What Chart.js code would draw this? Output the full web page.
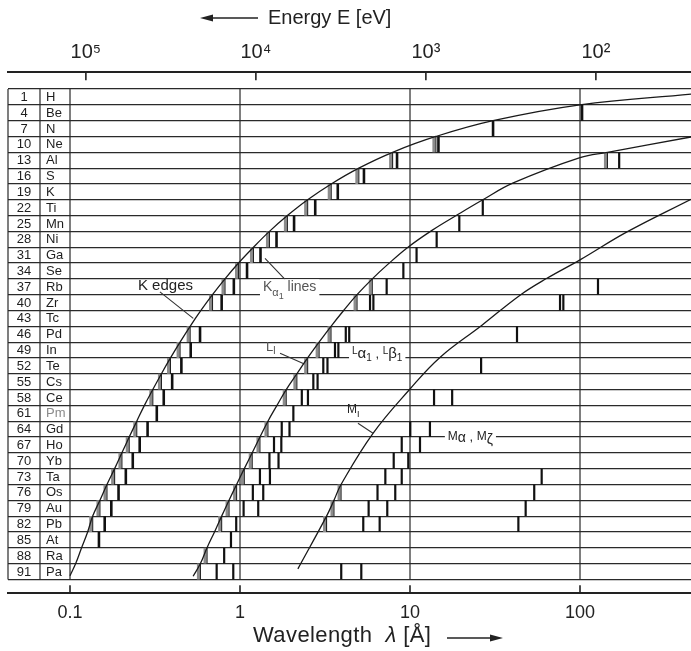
<!DOCTYPE html>
<html>
<head>
<meta charset="utf-8">
<script src="https://cdn.jsdelivr.net/npm/chart.js@4.4.1/dist/chart.umd.min.js"></script>
<style>
  html, body { margin: 0; padding: 0; background: #fff; }
</style>
</head>
<body>
<canvas id="chart" width="691" height="651"></canvas>
<script>
// rows of the table: atomic number and symbol
const ROW_Z = [1, 4, 7, 10, 13, 16, 19, 22, 25, 28, 31, 34, 37, 40, 43, 46, 49, 52, 55, 58, 61, 64, 67, 70, 73, 76, 79, 82, 85, 88, 91];
const SYMBOLS = ["H", "Be", "N", "Ne", "Al", "S", "K", "Ti", "Mn", "Ni", "Ga", "Se", "Rb", "Zr", "Tc", "Pd", "In", "Te", "Cs", "Ce", "Pm", "Gd", "Ho", "Yb", "Ta", "Os", "Au", "Pb", "At", "Ra", "Pa"];
const FAINT_SYMBOLS = ["Pm"];

// K series, wavelengths in Å (null = not drawn)
const K_EDGE = [null, null, null, 14.2, 7.9, 5.0, 3.44, 2.50, 1.90, 1.49, 1.20, 0.98, 0.816, 0.689, null, 0.509, 0.444, 0.390, 0.345, 0.307, null, 0.247, 0.223, 0.202, 0.183, 0.165, 0.150, 0.136, null, null, null];
const K_ALPHA = [null, 102.8, 30.8, 14.7, 8.39, 5.36, 3.76, 2.77, 2.08, 1.64, 1.32, 1.10, 0.92, 0.78, null, 0.582, 0.513, 0.452, 0.399, 0.356, 0.324, 0.286, 0.257, 0.234, 0.213, 0.193, 0.175, 0.160, 0.148, null, null];
const K_CURVE_LAM = [449.7, 100, 30.8, 14.2, 7.9, 5.0, 3.44, 2.50, 1.90, 1.49, 1.20, 0.98, 0.816, 0.689, 0.589, 0.509, 0.444, 0.390, 0.345, 0.307, 0.274, 0.247, 0.223, 0.202, 0.183, 0.165, 0.150, 0.136, 0.127, 0.117, 0.108, 0.100];
const K_CURVE_Z = [0.45, 2.5, 5.5, 8.5, 11.5, 14.5, 17.5, 20.5, 23.5, 26.5, 29.5, 32.5, 35.5, 38.5, 41.5, 44.5, 47.5, 50.5, 53.5, 56.5, 59.5, 62.5, 65.5, 68.5, 71.5, 74.5, 77.5, 80.5, 83.5, 86.5, 89.5, 91.8];

// L series
const L_EDGE = [null, null, null, null, 145, null, null, null, null, null, null, null, 6.0, 4.88, null, 3.43, 2.92, 2.50, 2.16, 1.87, null, 1.46, 1.31, 1.18, 1.06, 0.955, 0.862, 0.780, null, 0.640, 0.585];
const L_LINES = [[], [], [], [], [170], [], [], [26.8], [19.5], [14.35], [10.93], [9.14], [7.29], [5.82, 6.09], [], [4.19, 4.39], [3.62, 3.79], [3.09, 3.27], [2.70, 2.86], [2.31, 2.51], [2.06], [1.76, 1.955], [1.585, 1.75], [1.49, 1.685], [1.31, 1.50], [1.19, 1.37], [1.05, 1.28], [0.95], [0.885], [0.807], [0.729, 0.913]];
const L_CURVE_LAM = [449.7, 145, 100, 40.5, 26.5, 18.9, 13.47, 9.73, 7.32, 6.0, 4.88, 4.07, 3.43, 2.92, 2.50, 2.16, 1.87, 1.65, 1.46, 1.31, 1.18, 1.06, 0.955, 0.862, 0.780, 0.708, 0.640, 0.585, 0.53];
const L_CURVE_Z = [8.6, 11.5, 12.5, 17.3, 20.6, 23.4, 26.3, 29.5, 32.9, 35.5, 38.5, 41.5, 44.5, 47.5, 50.5, 53.5, 56.5, 59.5, 62.5, 65.5, 68.5, 71.5, 74.5, 77.5, 80.5, 83.5, 86.5, 89.5, 91.9];

// M series
const M_EDGE = [null, null, null, null, null, null, null, null, null, null, null, null, null, null, null, null, null, null, null, null, null, null, null, null, null, 3.93, 3.57, 3.23, null, null, null];
const M_LINES = [[], [], [], [], [], [], [], [], [], [], [], [], [127.6], [76.3, 79.8], [], [42.6], [], [26.2], [], [13.85, 17.7], [], [10.04, 13.1], [8.94, 11.45], [8.02, 9.77], [7.16, 8.94, 59.5], [6.44, 8.19, 53.8], [5.71, 7.35, 47.9], [5.31, 6.63, 43.4], [], [], [3.94, 5.17]];
const M_CURVE_LAM = [449.7, 189, 100, 63.9, 44.4, 26.5, 15.0, 10.0, 6.06, 3.93, 3.57, 3.23, 2.19];
const M_CURVE_Z = [20.4, 26.6, 31.9, 35.4, 38.6, 44.3, 50.4, 56.4, 64.8, 74.5, 77.5, 80.5, 90.5];

// axes
const WAVE_TICKS = [0.1, 1, 10, 100];
const WAVE_LABELS = ["0.1", "1", "10", "100"];
const ENERGY_TICKS = [1e5, 1e4, 1e3, 1e2];
const ENERGY_LABELS = ["10\u2075", "10\u2074", "10\u00b3", "10\u00b2"];
const HC = 12398.4; // eV·Å
const X_MIN = 0.04318, X_MAX = 449.7;
const Y_MIN = -3.73, Y_MAX = 95.16;
const TABLE_LINES = [X_MIN, 0.0666, 0.1, 1, 10, 100];

// annotation texts: [text, size, dy, italic]
const ANNOTATIONS = [
  { lam: 0.251, z: 36.9, color: "#222", bg: false, parts: [["K edges", 15, 0]] },
  { lam: 1.365, z: 37.1, color: "#555", bg: true, parts: [["K", 14, 0], ["\u03b1", 11, 6], ["1", 9, 9], [" lines", 14, 0]] },
  { lam: 1.42, z: 48.5, color: "#555", bg: false, parts: [["L", 13, 0], ["I", 10, 4]] },
  { lam: 4.56, z: 49.8, color: "#222", bg: true, parts: [["L", 10, -3], ["\u03b1", 15, 0], ["1", 10, 4], [" , ", 13, 0], ["L", 10, -3], ["\u03b2", 15, 0], ["1", 10, 4]] },
  { lam: 4.26, z: 60.4, color: "#222", bg: false, parts: [["M", 12, 0], ["I", 9, 4]] },
  { lam: 16.7, z: 65.6, color: "#222", bg: true, parts: [["M", 12, -1], ["\u03b1", 14, 1], [" , ", 13, 0], ["M", 12, -1], ["\u03b6", 14, 3]] }
];
const LEADERS = [[0.338, 37.97, 0.531, 43.0], [1.403, 31.6, 1.84, 35.6], [1.72, 49.6, 2.41, 51.7], [4.94, 62.9, 6.06, 64.8]];

const FONT = "'Liberation Sans', Arial, sans-serif";

function rowSegments(values, shift) {
  const pts = [];
  values.forEach((v, i) => {
    const list = Array.isArray(v) ? v : (v == null ? [] : [v]);
    list.forEach(lam => {
      const xv = lam * (shift || 1);
      pts.push({ x: xv, y: ROW_Z[i] - 1.5 }, { x: xv, y: ROW_Z[i] + 1.5 }, { x: xv, y: null });
    });
  });
  return pts;
}

const curve = (lams, zs) => lams.map((l, i) => ({ x: l, y: zs[i] }));

const seg = (data, width, color, extra) => Object.assign({
  data, showLine: true, borderColor: color, borderWidth: width,
  pointRadius: 0, spanGaps: false, borderCapStyle: "butt"
}, extra || {});

const hatchShift = Math.pow(10, -2 / 170);

const structure = TABLE_LINES.flatMap(l => [{ x: l, y: -0.5 }, { x: l, y: 92.5 }, { x: l, y: null }]);
const tickMarks = [
  ...WAVE_TICKS.flatMap(t => [{ x: t, y: Y_MAX }, { x: t, y: Y_MAX - 1.55 }, { x: t, y: null }]),
  ...ENERGY_TICKS.flatMap(e => [{ x: HC / e, y: Y_MIN }, { x: HC / e, y: Y_MIN + 1.55 }, { x: HC / e, y: null }])
];
const leaderPts = LEADERS.flatMap(l => [{ x: l[0], y: l[1] }, { x: l[2], y: l[3] }, { x: l[2], y: null }]);

const datasets = [
  seg(curve(K_CURVE_LAM, K_CURVE_Z), 1.3, "#1a1a1a", { tension: 0.4 }),
  seg(curve(L_CURVE_LAM, L_CURVE_Z), 1.3, "#1a1a1a", { tension: 0.4 }),
  seg(curve(M_CURVE_LAM, M_CURVE_Z), 1.3, "#1a1a1a", { tension: 0.4 }),
  seg(rowSegments(K_ALPHA), 2.6, "#111"),
  seg(rowSegments(L_LINES), 2.2, "#111"),
  seg(rowSegments(M_LINES), 2.2, "#111"),
  seg(rowSegments(K_EDGE), 1.1, "#222"),
  seg(rowSegments(L_EDGE), 1.1, "#222"),
  seg(rowSegments(M_EDGE), 1.1, "#222"),
  seg(rowSegments(K_EDGE, hatchShift), 3, "#8c8c8c"),
  seg(rowSegments(L_EDGE, hatchShift), 3, "#8c8c8c"),
  seg(rowSegments(M_EDGE, hatchShift), 3, "#8c8c8c"),
  seg(leaderPts, 1.1, "#333"),
  seg(tickMarks, 1.6, "#222", { clip: false }),
  seg(structure, 1.2, "#2a2a2a", { clip: false })
];

function drawParts(ctx, parts, px, py, color) {
  ctx.fillStyle = color;
  ctx.textAlign = "left";
  ctx.textBaseline = "middle";
  parts.forEach(([t, s, dy, it]) => {
    ctx.font = (it ? "italic " : "") + s + "px " + FONT;
    ctx.fillText(t, px, py + (dy || 0));
    px += ctx.measureText(t).width;
  });
}

function partsWidth(ctx, parts) {
  let w = 0;
  parts.forEach(([t, s, dy, it]) => {
    ctx.font = (it ? "italic " : "") + s + "px " + FONT;
    w += ctx.measureText(t).width;
  });
  return w;
}

function arrow(ctx, x1, y1, x2, y2) {
  const dir = Math.sign(x2 - x1);
  ctx.beginPath();
  ctx.moveTo(x1, y1);
  ctx.lineTo(x2 - dir * 8, y2);
  ctx.stroke();
  ctx.beginPath();
  ctx.moveTo(x2, y2);
  ctx.lineTo(x2 - dir * 13, y2 - 3.5);
  ctx.lineTo(x2 - dir * 13, y2 + 3.5);
  ctx.closePath();
  ctx.fill();
}

const textPlugin = {
  id: "tableText",
  afterDatasetsDraw(chart) {
    const { ctx } = chart;
    const x = chart.scales.x, y = chart.scales.y;
    ctx.save();
    const c0 = x.getPixelForValue(TABLE_LINES[0]);
    const c1 = x.getPixelForValue(TABLE_LINES[1]);
    ctx.textBaseline = "middle";
    ctx.font = "13px " + FONT;
    ROW_Z.forEach((z, i) => {
      const py = y.getPixelForValue(z) + 0.5;
      ctx.fillStyle = "#1e1e1e";
      ctx.textAlign = "center";
      ctx.fillText(String(z), (c0 + c1) / 2, py);
      ctx.textAlign = "left";
      ctx.fillStyle = FAINT_SYMBOLS.includes(SYMBOLS[i]) ? "#8a8a8a" : "#1e1e1e";
      ctx.fillText(SYMBOLS[i], c1 + 6, py);
    });
    ANNOTATIONS.forEach(a => {
      const px = x.getPixelForValue(a.lam), py = y.getPixelForValue(a.z);
      if (a.bg) {
        const w = partsWidth(ctx, a.parts);
        ctx.fillStyle = "#fff";
        ctx.fillRect(px - 3, py - 8, w + 6, 17);
      }
      drawParts(ctx, a.parts, px, py, a.color);
    });
    ctx.restore();
  },
  afterDraw(chart) {
    const { ctx } = chart;
    ctx.save();
    ctx.strokeStyle = "#222";
    ctx.fillStyle = "#222";
    ctx.lineWidth = 1.6;
    arrow(ctx, 258, 18, 200, 18);
    arrow(ctx, 447, 638, 503, 638);
    drawParts(ctx, [["Energy E [eV]", 20, 0]], 268, 18, "#222");
    ctx.letterSpacing = "0.4px";
    drawParts(ctx, [["Wavelength  ", 22, 0], ["\u03bb", 22, 0, true], [" [\u00c5]", 22, 0]], 253, 636, "#222");
    ctx.restore();
  }
};

Chart.defaults.font.family = FONT;
Chart.defaults.color = "#222";

new Chart(document.getElementById("chart"), {
  type: "scatter",
  data: { datasets },
  options: {
    responsive: false,
    animation: false,
    layout: { padding: { left: 8, right: 0, top: 32, bottom: 18 } },
    plugins: { legend: { display: false }, tooltip: { enabled: false } },
    scales: {
      x: {
        type: "logarithmic", position: "bottom", min: X_MIN, max: X_MAX,
        afterBuildTicks: s => { s.ticks = WAVE_TICKS.map(v => ({ value: v })); },
        ticks: { autoSkip: false, maxRotation: 0, padding: 9, font: { size: 18 }, color: "#222",
          callback: (v, i) => WAVE_LABELS[i] },
        grid: { display: false, drawTicks: false },
        border: { display: true, width: 2, color: "#222" }
      },
      x2: {
        type: "logarithmic", position: "top", min: X_MIN, max: X_MAX,
        afterBuildTicks: s => { s.ticks = ENERGY_TICKS.map(e => ({ value: HC / e })); },
        ticks: { autoSkip: false, maxRotation: 0, padding: 8, font: { size: 20 }, color: "#222",
          callback: (v, i) => ENERGY_LABELS[i] },
        grid: { display: false, drawTicks: false },
        border: { display: true, width: 2, color: "#222" }
      },
      y: {
        type: "linear", reverse: true, min: Y_MIN, max: Y_MAX,
        afterBuildTicks: s => { s.ticks = ROW_Z.concat([94]).map(z => ({ value: z - 1.5 })); },
        ticks: { display: false },
        grid: { color: "#2a2a2a", lineWidth: 1.2, drawTicks: false },
        border: { display: false }
      }
    }
  },
  plugins: [textPlugin]
});
</script>
</body>
</html>
